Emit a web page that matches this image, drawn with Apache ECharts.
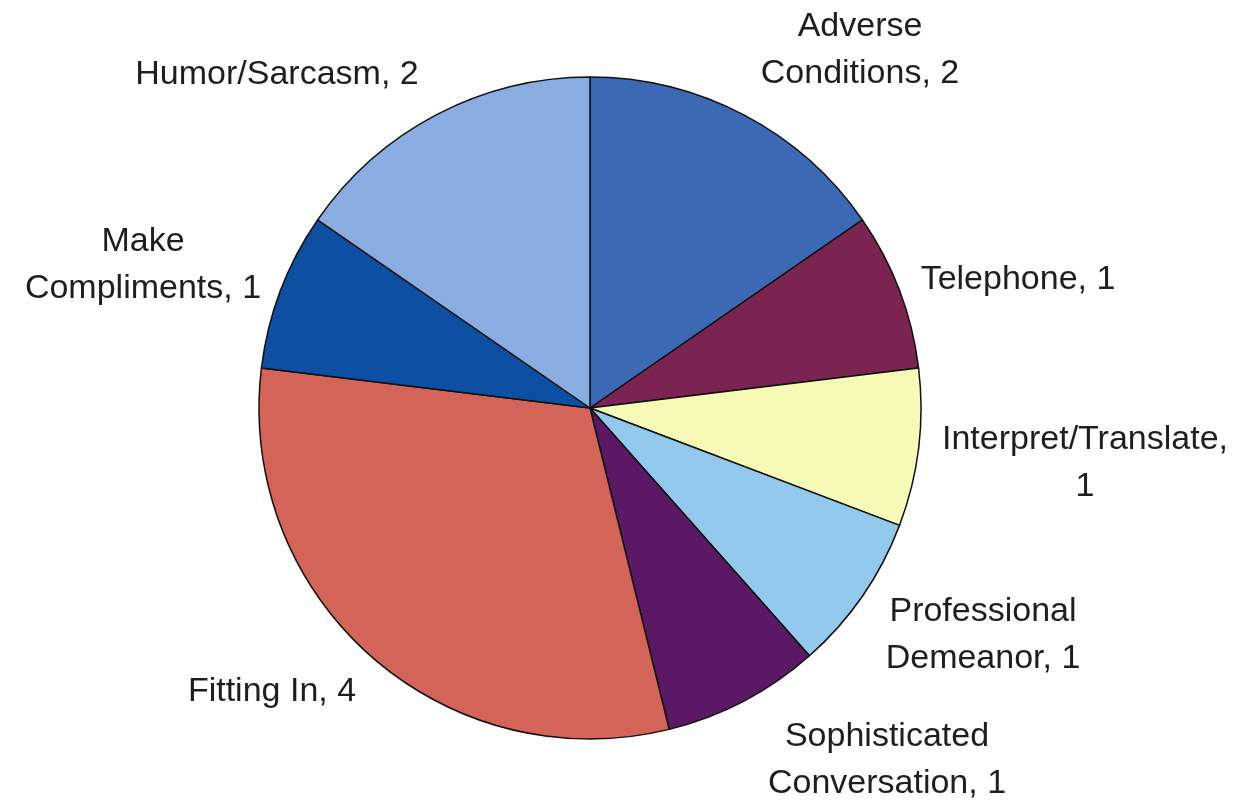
<!DOCTYPE html>
<html>
<head>
<meta charset="utf-8">
<script src="https://cdn.jsdelivr.net/npm/echarts@6/dist/echarts.min.js"></script>
<style>
  html, body { margin: 0; padding: 0; background: #fff; }
  #main { width: 1241px; height: 806px; }
</style>
</head>
<body>
<div id="main"></div>
<script>
// slices, clockwise from 12 o'clock
const categories = [
    'Adverse\nConditions', 'Telephone', 'Interpret/Translate,\n', 'Professional\nDemeanor',
    'Sophisticated\nConversation', 'Fitting In', 'Make\nCompliments', 'Humor/Sarcasm'
];
const counts = [2, 1, 1, 1, 1, 4, 1, 2];
const colors = ['#3b69b4', '#7b2452', '#f7fab6', '#92c9ec', '#5a1865', '#d36457', '#0d4fa2', '#89ade1'];

// where each label block is centred (px)
const labelAt = [
    [860, 50], [1018, 280], [1085, 463], [983, 635],
    [887, 760], [272, 692], [143, 265], [277, 75]
];

const myChart = echarts.init(document.getElementById('main'));
const option = {
    backgroundColor: '#fff',
    animation: false,
    series: [{
        type: 'pie',
        center: [590, 408],
        radius: 331,
        startAngle: 90,
        clockwise: true,
        avoidLabelOverlap: false,
        data: categories.map((c, i) => ({
            name: c,
            value: counts[i],
            itemStyle: { color: colors[i] }
        })),
        itemStyle: {
            borderColor: '#111',
            borderWidth: 1.5
        },
        label: {
            show: true,
            position: 'outside',
            formatter: (p) => p.name.endsWith('\n') ? p.name + p.value : p.name + ', ' + p.value,
            fontFamily: 'Liberation Sans, Arial, sans-serif',
            fontSize: 34,
            lineHeight: 47,
            color: '#1e1e1e',
            align: 'center'
        },
        labelLine: { show: false },
        labelLayout: (params) => ({
            x: labelAt[params.dataIndex][0],
            y: labelAt[params.dataIndex][1],
            align: 'center',
            verticalAlign: 'middle'
        }),
        emphasis: { disabled: true }
    }]
};
myChart.setOption(option);
</script>
</body>
</html>
